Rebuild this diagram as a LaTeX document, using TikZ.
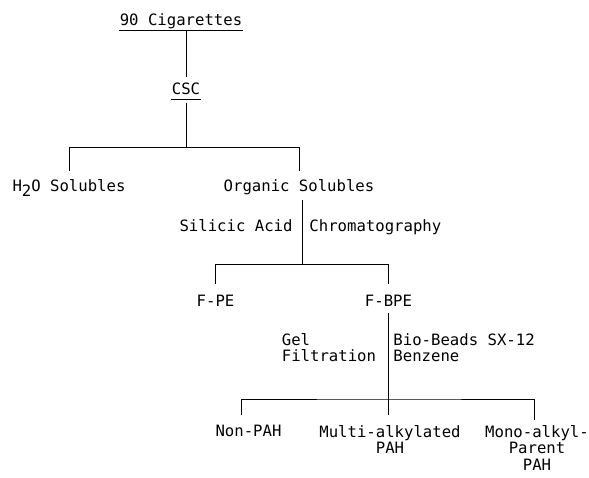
\documentclass[tikz,border=0pt]{standalone}
\usepackage{fontspec}
\usepackage{tikz}
\usetikzlibrary{calc}
\newfontfamily\flowfont{DejaVu Sans Mono}

\begin{document}
\begin{tikzpicture}[line width=0.5pt,
    txt/.style={font=\flowfont\fontsize{8.9}{9.4}\selectfont,inner sep=0pt,text height=6.8pt,text depth=2.3pt},
    txtml/.style={font=\flowfont\fontsize{8.9}{9.4}\selectfont,inner sep=0pt,align=center}]
      \useasboundingbox (0,0) rectangle (11.78,-9.56);

      \node[txt] (1) at (3.62,-0.44) {90 Cigarettes};
      \node[txt,below of=1,xshift=0.1cm,yshift=-0.38cm] (2) {CSC};
      \node[txt,below of=2,xshift=2.26cm,yshift=-0.94cm] (4) {Organic Solubles};
      \node[txt,left of=4,xshift=-3.6cm] (3) {H\raisebox{-0.5ex}{2}O Solubles};
      \node[txt,below of=4,xshift=1.79cm,yshift=-1.3cm] (6) {F-BPE};
      \node[txt,left of=6,xshift=-2.46cm] (5) {F-PE};
      \node[txt,below of=6,xshift=-2.8cm,yshift=-1.6cm] (7) {Non-PAH};
      \node[txtml,right of=7,anchor=north,xshift=1.83cm,yshift=0.16cm] (8) {Multi-alkylated\\PAH};
      \node[txtml,right of=7,anchor=north,xshift=4.77cm,yshift=0.16cm] (9) {Mono-alkyl-\\Parent\\PAH};

      % underlined headings
      \draw (1.south west) -- (1.south east);
      \draw (2.south west) -- (2.south east);

      \draw[shorten <=3pt] (2.north) -- (2.north |- 1.south);
      \coordinate (b1) at ($(3.north)!0.5!(4.north)+(0,0.64)$);
      \draw[shorten <=2pt] (2.south) -- (2.south |- b1);
      \draw ([yshift=0.18cm]3.north) |- (b1) -| ([yshift=0.18cm]4.north);

      \coordinate (b2) at ($(5.north)!0.5!(6.north)+(0,0.6)$);
      \draw[shorten <=2pt] (4.south -| b2) -- (b2)
        node[txt,pos=0.45,left=0.18cm] (10) {Silicic Acid}
        node[txt,pos=0.45,right=0.14cm] (11) {Chromatography};
      \draw ([yshift=0.22cm]5.north) |- (b2) -| ([yshift=0.22cm]6.north);

      \coordinate (b3) at ([yshift=0.52cm]8.north);
      \draw[shorten <=1pt,shorten >=0.2cm] (6.south) -- (6.south |- 8.north)
        node[txtml,align=left,pos=0.32,left=0.24cm] (12) {Gel\\Filtration}
        node[txtml,align=left,pos=0.32,right=0.09cm] (13) {Bio-Beads SX-12\\Benzene};
      \draw ([xshift=-0.15cm,yshift=0.2cm]7.north) |- (b3) -| ([xshift=-0.06cm,yshift=0.1cm]9.north);
    \end{tikzpicture}
\end{document}
